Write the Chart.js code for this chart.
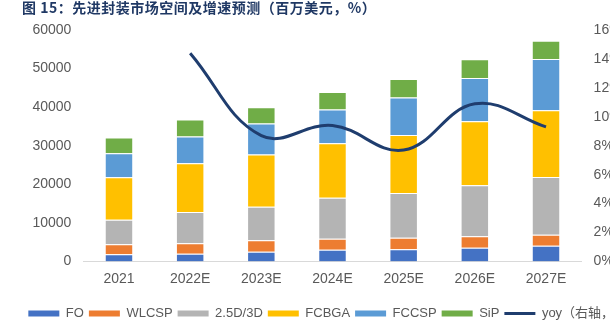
<!DOCTYPE html>
<html><head><meta charset="utf-8">
<script src="https://cdn.jsdelivr.net/npm/chart.js@4"></script>
<style>
html,body{margin:0;padding:0;background:#fff;overflow:hidden;width:610px;height:330px;}
#wrap{position:relative;width:667px;height:330px;}
#title{position:absolute;left:22px;top:0;font:bold 14px/14px "Noto Sans CJK SC","Liberation Sans",sans-serif;color:#1F3864;white-space:nowrap;letter-spacing:0.5px;}
canvas{position:absolute;left:0;top:0;}
</style></head><body>
<div id="wrap"><canvas id="c" width="667" height="330"></canvas><div id="title">图 15：先进封装市场空间及增速预测（百万美元，%）</div></div>
<script>
const categories = ['2021','2022E','2023E','2024E','2025E','2026E','2027E'];
const foValues    = [1900, 2000, 2510, 3030, 3200, 3550, 4080];
const wlcspValues = [2600, 2750, 3020, 2870, 2950, 3020, 2850];
const d25Values   = [6330, 8050, 8670, 10650, 11590, 13170, 14970];
const fcbgaValues = [11000, 12650, 13500, 14100, 15060, 16620, 17320];
const fccspValues = [6230, 6940, 8070, 8750, 9720, 11170, 13250];
const sipValues   = [4080, 4410, 4230, 4500, 4750, 4860, 4750];
const yoyValues   = [null, 14.4, 8.7, 9.4, 7.7, 10.9, 9.3];
const leftTickMax = 60000, leftTickStep = 10000;
const rightTickMax = 16, rightTickStep = 2;

const W = 667;
const txt = '#595959';
const fam = '"Liberation Sans", "Noto Sans CJK SC", sans-serif';
const lineColor = '#1F3D6E';

function bar(label, data, color) {
  return { type: 'bar', label, data, backgroundColor: color, borderColor: 'rgba(255,255,255,0.55)', borderWidth: 1,
    categoryPercentage: 1, barPercentage: 0.4, yAxisID: 'y', order: 1 };
}

new Chart(document.getElementById('c'), {
  data: {
    labels: categories,
    datasets: [
      bar('FO', foValues, '#4472C4'),
      bar('WLCSP', wlcspValues, '#ED7D31'),
      bar('2.5D/3D', d25Values, '#B4B4B4'),
      bar('FCBGA', fcbgaValues, '#FFC000'),
      bar('FCCSP', fccspValues, '#5B9BD5'),
      bar('SiP', sipValues, '#70AD47'),
      { type: 'line', label: 'yoy（右轴，%）', data: yoyValues, yAxisID: 'y1', borderColor: lineColor, backgroundColor: lineColor,
        borderWidth: 3, pointRadius: 0, tension: 0.4, order: 0, spanGaps: false }
    ]
  },
  options: {
    responsive: false, animation: false, devicePixelRatio: 1,
    layout: { padding: { top: 30, left: 0, right: 0, bottom: 0 } },
    plugins: {
      tooltip: { enabled: false },
      legend: {
        position: 'bottom',
        labels: {
          usePointStyle: true, pointStyleWidth: 31, boxHeight: 6, padding: 5,
          color: txt, font: { size: 13, family: fam },
          generateLabels(chart) {
            const items = Chart.defaults.plugins.legend.labels.generateLabels(chart);
            items.forEach(it => {
              const ds = chart.data.datasets[it.datasetIndex];
              if (ds.type === 'line') { it.pointStyle = 'line'; it.strokeStyle = lineColor; it.lineWidth = 3; }
              else { it.pointStyle = 'rect'; it.lineWidth = 0; it.strokeStyle = ds.backgroundColor; it.fillStyle = ds.backgroundColor; }
            });
            return items.sort((a, b) => a.datasetIndex - b.datasetIndex);
          }
        }
      }
    },
    scales: {
      x: {
        stacked: true,
        grid: { display: false, drawTicks: false },
        border: { display: true, color: '#D9D9D9', width: 1 },
        ticks: { color: txt, font: { size: 14, family: fam }, padding: 9 },
        afterFit(s) { s.height = 40.5; }
      },
      y: {
        stacked: true, min: 0, max: leftTickMax,
        grid: { display: false, drawTicks: false },
        border: { display: false },
        ticks: { stepSize: leftTickStep, color: txt, font: { size: 14, family: fam }, padding: 12, callback: v => String(v) },
        afterFit(s) { s.width = 83.4; }
      },
      y1: {
        position: 'right', min: 0, max: rightTickMax,
        grid: { display: false, drawTicks: false },
        border: { display: false },
        ticks: { stepSize: rightTickStep, color: txt, font: { size: 14, family: fam }, padding: 12, callback: v => v + '%' },
        afterFit(s) { s.width = W - 581.6; }
      }
    }
  }
});
</script>
</body></html>
